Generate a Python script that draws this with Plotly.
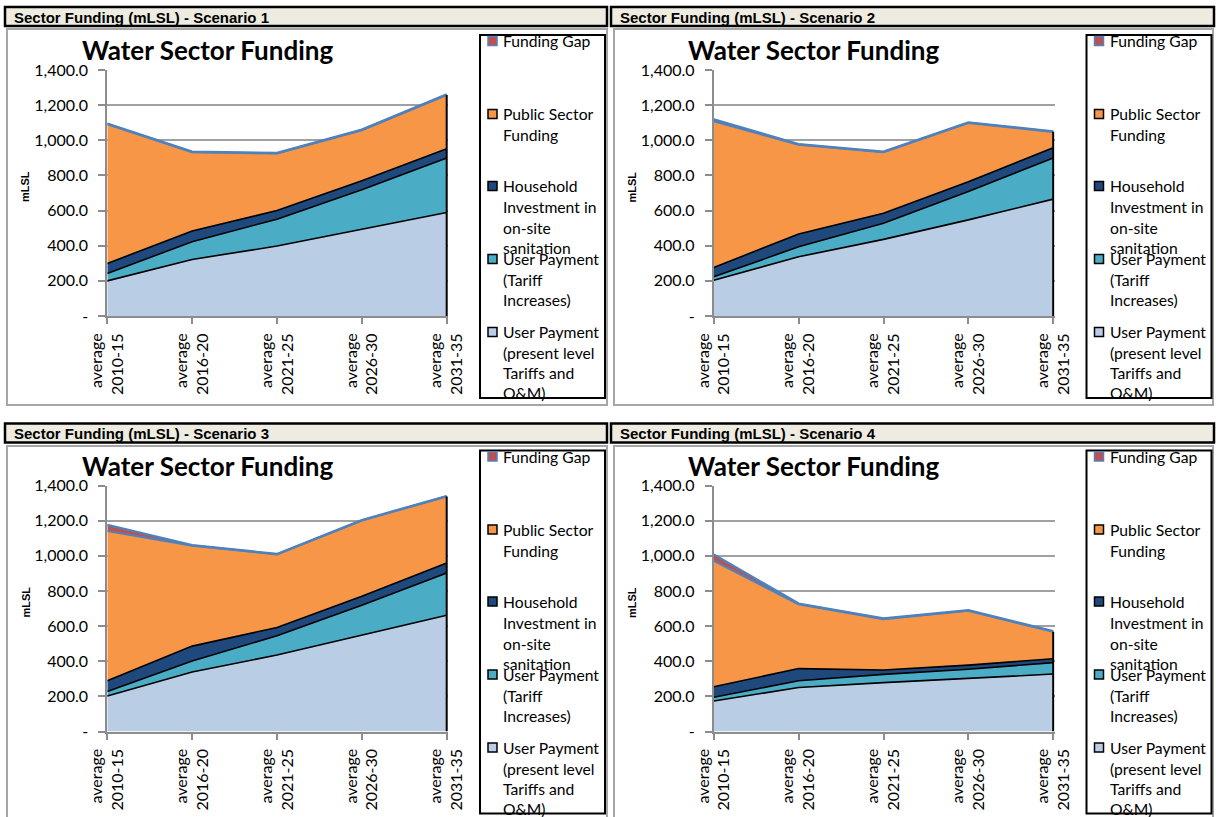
import plotly.graph_objects as go

W, H = 1216, 817

categories = ["average<br>2010-15", "average<br>2016-20", "average<br>2021-25",
              "average<br>2026-30", "average<br>2031-35"]
scenario_names = ["Sector Funding (mLSL) - Scenario 1", "Sector Funding (mLSL) - Scenario 2",
                  "Sector Funding (mLSL) - Scenario 3", "Sector Funding (mLSL) - Scenario 4"]
chart_title = "Water Sector Funding"
y_title = "mLSL"
y_tickvals = [0, 200, 400, 600, 800, 1000, 1200, 1400]
y_ticktext = ["-", "200.0", "400.0", "600.0", "800.0", "1,000.0", "1,200.0", "1,400.0"]

# series values per scenario (mLSL), bottom to top of the stack
user_present = [
    [200, 322, 398, 493, 589],
    [204, 337, 436, 547, 665],
    [202, 339, 435, 549, 662],
    [174, 250, 278, 301, 327],
]
user_tariff = [
    [42, 101, 153, 225, 310],
    [19, 57, 92, 162, 234],
    [25, 62, 110, 170, 240],
    [21, 39, 47, 53, 65],
]
household = [
    [57, 61, 49, 52, 53],
    [53, 73, 57, 55, 59],
    [62, 85, 47, 51, 57],
    [60, 69, 25, 24, 22],
]
public_sector = [
    [793, 448, 325, 288, 306],
    [833, 508, 347, 335, 90],
    [852, 572, 416, 431, 379],
    [716, 367, 290, 309, 154],
]
funding_gap = [
    [3, 3, 3, 3, 3],
    [10, 3, 3, 3, 3],
    [35, 3, 2, 2, 2],
    [36, 3, 3, 3, 3],
]

series_names = ["User Payment (present level Tariffs and O&M)", "User Payment (Tariff Increases)",
                "Household Investment in on-site sanitation", "Public Sector Funding", "Funding Gap"]
fill_colors = ["#B9CDE5", "#4BACC6", "#1F497D", "#F79646", "#C0504D"]
line_colors = ["#000000", "#000000", "#000000", "#4F81BD", "#4F81BD"]
line_widths = [1.6, 1.6, 1.6, 2.2, 2.4]

legend_lines = [
    ["Funding Gap"],
    ["Public Sector", "Funding"],
    ["Household", "Investment in", "on-site", "sanitation"],
    ["User Payment", "(Tariff", "Increases)"],
    ["User Payment", "(present level", "Tariffs and", "O&M)"],
]
legend_line_y = [[41], [114, 135], [186, 207, 228, 248], [259, 280, 300], [332, 353, 373, 393]]
legend_fill = ["#C0504D", "#F79646", "#1F497D", "#4BACC6", "#B9CDE5"]
legend_border = ["#4F81BD", "#000000", "#000000", "#000000", "#000000"]

FONT = "Lato"


def X(px):
    return px / W


def Y(py):
    return 1 - py / H


fig = go.Figure()
shapes = []
annotations = []
layout_axes = {}

for i in range(4):
    col, row = i % 2, i // 2
    dx, dy = 606.5 * col, 415.5 * row
    xa = "x" if i == 0 else f"x{i+1}"
    ya = "y" if i == 0 else f"y{i+1}"
    xkey = "xaxis" if i == 0 else f"xaxis{i+1}"
    ykey = "yaxis" if i == 0 else f"yaxis{i+1}"

    x0p, x1p = 107.3 + dx, 446.7 + dx + 1.5
    y0p, y1p = 316.0 + dy, 70.0 + dy
    xr_max = 4 * (x1p - x0p) / (339.4)

    layout_axes[xkey] = dict(
        domain=[X(x0p), X(x1p)], range=[0, xr_max], anchor=ya, automargin=False,
        tickmode="array", tickvals=[0, 1, 2, 3, 4], ticktext=categories,
        tickangle=-90, showgrid=False, zeroline=False,
        showline=True, linecolor="#8C8C8C", linewidth=2,
        ticks="outside", ticklen=6, tickwidth=2, tickcolor="#8C8C8C",
        tickfont=dict(family=FONT, size=16, color="#000000"),
        ticklabelstandoff=3, fixedrange=True,
    )
    layout_axes[ykey] = dict(
        domain=[Y(y0p), Y(y1p)], range=[0, 1400], anchor=xa, automargin=False,
        tickmode="array", tickvals=y_tickvals, ticktext=y_ticktext,
        showgrid=True, gridcolor="#A0A0A0", gridwidth=2, zeroline=False,
        showline=True, linecolor="#8C8C8C", linewidth=2,
        ticks="outside", ticklen=7, tickwidth=2, tickcolor="#8C8C8C",
        tickfont=dict(family=FONT, size=16, color="#000000"),
        ticklabelstandoff=7, fixedrange=True,
    )

    data = [user_present[i], user_tariff[i], household[i], public_sector[i], funding_gap[i]]
    xs = [0, 1, 2, 3, 4]
    for k, vals in enumerate(data):
        fig.add_trace(go.Scatter(
            x=xs, y=vals, xaxis=xa, yaxis=ya, mode="lines",
            stackgroup=f"s{i}", fillcolor=fill_colors[k],
            line=dict(color=line_colors[k], width=line_widths[k]),
            name=series_names[k], showlegend=False, hoverinfo="skip",
        ))
    total_last = sum(d[-1] for d in data[:4])
    fig.add_trace(go.Scatter(
        x=[4, 4], y=[0, total_last], xaxis=xa, yaxis=ya, mode="lines",
        line=dict(color="#000000", width=2), showlegend=False, hoverinfo="skip",
    ))

    # header bar
    hx0, hx1 = (5, 607) if col == 0 else (611, 1214)
    hy0, hy1 = 7 + 416.5 * row, 26 + 416.5 * row
    shapes.append(dict(type="rect", xref="paper", yref="paper",
                       x0=X(hx0), x1=X(hx1), y0=Y(hy1), y1=Y(hy0),
                       fillcolor="#EEECE1", line=dict(color="#000000", width=2.5), layer="above"))
    annotations.append(dict(text=f"<b>{scenario_names[i]}</b>", xref="paper", yref="paper",
                            x=X(hx0 + 7), y=Y((hy0 + hy1) / 2 + 0.5), xanchor="left", yanchor="middle",
                            showarrow=False, font=dict(family="Liberation Sans", size=15, color="#000000")))

    # chart box
    cx0, cx1 = (7, 607) if col == 0 else (614, 1213)
    cy0, cy1 = 29 + 417 * row, 405 + 417 * row
    if row == 1:
        cy1 = 830
    shapes.append(dict(type="rect", xref="paper", yref="paper",
                       x0=X(cx0), x1=X(cx1), y0=Y(cy1), y1=Y(cy0),
                       line=dict(color="#A6A6A6", width=2), layer="below"))

    # title
    annotations.append(dict(text=f"<b>{chart_title}</b>", xref="paper", yref="paper",
                            x=X(207 + dx), y=Y(50 + dy), xanchor="center", yanchor="middle",
                            showarrow=False, font=dict(family=FONT, size=26, color="#000000")))
    # y title
    annotations.append(dict(text=f"<b>{y_title}</b>", xref="paper", yref="paper",
                            x=X(25 + dx), y=Y(187 + dy), xanchor="center", yanchor="middle",
                            textangle=-90, showarrow=False,
                            font=dict(family="Liberation Sans", size=11, color="#000000")))

    # legend box
    shapes.append(dict(type="rect", xref="paper", yref="paper",
                       x0=X(480 + dx), x1=X(605 + dx), y0=Y(398 + dy), y1=Y(35 + dy),
                       line=dict(color="#000000", width=2), layer="above"))
    for k in range(5):
        my = legend_line_y[k][0] + dy
        shapes.append(dict(type="rect", xref="paper", yref="paper",
                           x0=X(488 + dx), x1=X(497 + dx), y0=Y(my + 4.5), y1=Y(my - 4.5),
                           fillcolor=legend_fill[k], line=dict(color=legend_border[k], width=1.5),
                           layer="above"))
        for t, ly in zip(legend_lines[k], legend_line_y[k]):
            annotations.append(dict(text=t, xref="paper", yref="paper",
                                    x=X(501 + dx), y=Y(ly + dy), xanchor="left", yanchor="middle",
                                    showarrow=False,
                                    font=dict(family=FONT, size=15.7, color="#000000")))

fig.update_layout(
    width=W, height=H, margin=dict(l=0, r=0, t=0, b=0),
    paper_bgcolor="#FFFFFF", plot_bgcolor="#FFFFFF",
    shapes=shapes, annotations=annotations, showlegend=False,
    **layout_axes,
)

fig.write_html("out.html",
               config={"displayModeBar": False, "staticPlot": True},
               post_script="document.body.style.margin='0';document.body.style.padding='0';"
                           "document.body.style.overflow='hidden';")
